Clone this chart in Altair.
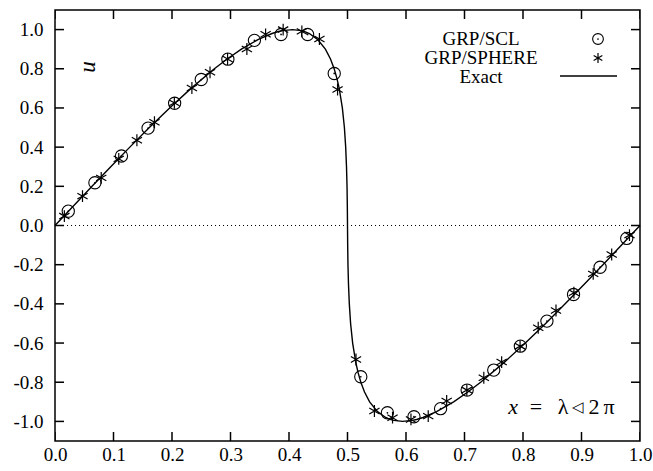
import altair as alt
import pandas as pd

# ---------------- data ----------------
x_ticks = [0.0, 0.1, 0.2, 0.3, 0.4, 0.5, 0.6, 0.7, 0.8, 0.9, 1.0]
y_ticks = [-1.0, -0.8, -0.6, -0.4, -0.2, 0.0, 0.2, 0.4, 0.6, 0.8, 1.0]

exact_x = [0.0, 0.0315, 0.0633, 0.0953, 0.1279, 0.1613, 0.1960, 0.2326, 0.2724, 0.2943,
           0.3186, 0.3477, 0.3710, 0.3819, 0.3893, 0.4060, 0.4211, 0.4270, 0.4348, 0.4487,
           0.4622, 0.4709, 0.4772, 0.4820, 0.4858, 0.4912, 0.4947, 0.4969, 0.4983, 0.4992,
           0.4997, 0.5000, 0.5003, 0.5008, 0.5017, 0.5031, 0.5053, 0.5088, 0.5142, 0.5180,
           0.5228, 0.5291, 0.5378, 0.5513, 0.5652, 0.5730, 0.5789, 0.5940, 0.6107, 0.6181,
           0.6290, 0.6523, 0.6814, 0.7057, 0.7276, 0.7674, 0.8040, 0.8387, 0.8721, 0.9047,
           0.9367, 0.9685, 1.0]
exact_u = [0.0, 0.1, 0.2, 0.3, 0.4, 0.5, 0.6, 0.7, 0.8, 0.85,
           0.9, 0.95, 0.98, 0.99, 0.995, 1.0, 0.995, 0.99, 0.98, 0.95,
           0.9, 0.85, 0.8, 0.75, 0.7, 0.6, 0.5, 0.4, 0.3, 0.2,
           0.1, 0.0, -0.1, -0.2, -0.3, -0.4, -0.5, -0.6, -0.7, -0.75,
           -0.8, -0.85, -0.9, -0.95, -0.98, -0.99, -0.995, -1.0, -0.995, -0.99,
           -0.98, -0.95, -0.9, -0.85, -0.8, -0.7, -0.6, -0.5, -0.4, -0.3,
           -0.2, -0.1, 0.0]

scl_x = [0.0227, 0.0682, 0.1136, 0.1591, 0.2045, 0.2500, 0.2955, 0.3409, 0.3864, 0.4318, 0.4773,
         0.5227, 0.5682, 0.6136, 0.6591, 0.7045, 0.7500, 0.7955, 0.8409, 0.8864, 0.9318, 0.9773]
scl_u = [0.073, 0.218, 0.355, 0.497, 0.624, 0.745, 0.849, 0.945, 0.975, 0.975, 0.776,
         -0.772, -0.956, -0.976, -0.935, -0.840, -0.738, -0.616, -0.488, -0.352, -0.213, -0.066]

sph_x = [0.016, 0.047, 0.079, 0.109, 0.140, 0.170, 0.204, 0.234, 0.265, 0.295, 0.328,
         0.360, 0.390, 0.422, 0.452, 0.483,
         0.5145, 0.546, 0.577, 0.6085, 0.638, 0.6695, 0.704, 0.733, 0.7635, 0.795,
         0.826, 0.8564, 0.887, 0.920, 0.9516, 0.982]
sph_u = [0.048, 0.150, 0.243, 0.340, 0.435, 0.527, 0.626, 0.702, 0.782, 0.850, 0.901,
         0.976, 1.000, 0.991, 0.952, 0.694,
         -0.684, -0.947, -0.981, -0.990, -0.973, -0.896, -0.840, -0.777, -0.697, -0.616,
         -0.522, -0.434, -0.343, -0.247, -0.148, -0.049]

legend_labels = ["GRP/SCL", "GRP/SPHERE", "Exact"]
xlabel_parts = ["x", "=", "λ", "◁", "2", "π"]

# ---------------- styling ----------------
W, H = 585, 431
FONT = "Liberation Serif"
FS = 19
ASTER = "M0,-1L0,1M-0.866,-0.5L0.866,0.5M-0.866,0.5L0.866,-0.5"

xs = alt.Scale(domain=[0, 1], nice=False, zero=False)
ys = alt.Scale(domain=[-1.1, 1.1], nice=False, zero=False)
lab = "datum.value < 0 ? '-' + format(-datum.value, '.1f') : format(datum.value, '.1f')"

x_axis = alt.Axis(values=x_ticks, labelExpr=lab, ticks=False, tickSize=0, domain=False,
                  grid=False, labelFont=FONT, labelFontSize=FS, labelColor="black",
                  labelPadding=4, title=None, labelFlush=False, labelOverlap=False)
y_axis = alt.Axis(values=y_ticks, labelExpr=lab, ticks=False, tickSize=0, domain=False,
                  grid=False, labelFont=FONT, labelFontSize=FS, labelColor="black",
                  labelPadding=12, title=None, labelFlush=False, labelOverlap=False)

df_exact = pd.DataFrame({"x": exact_x, "u": exact_u})
df_scl = pd.DataFrame({"x": scl_x, "u": scl_u})
df_sph = pd.DataFrame({"x": sph_x, "u": sph_u})
df_xt = pd.DataFrame({"x": x_ticks})
df_yt = pd.DataFrame({"u": y_ticks})
one = pd.DataFrame({"a": [0]})

X = lambda: alt.X("x:Q", scale=xs, axis=x_axis)
Y = lambda: alt.Y("u:Q", scale=ys, axis=y_axis)

zero_line = alt.Chart(pd.DataFrame({"u": [0.0]})).mark_rule(
    color="black", strokeWidth=1, strokeDash=[1, 3]).encode(y=Y())

exact = alt.Chart(df_exact).mark_line(color="black", strokeWidth=1.4).encode(x=X(), y=Y())

scl = alt.Chart(df_scl).mark_point(shape="circle", filled=False, size=150, color="black",
                                   strokeWidth=1.1, opacity=1).encode(x=X(), y=Y())
scl_dot = alt.Chart(df_scl).mark_point(shape="circle", filled=True, size=3, color="black",
                                       opacity=1).encode(x=X(), y=Y())
sph = alt.Chart(df_sph).mark_point(shape=ASTER, filled=False, size=140, color="black",
                                   strokeWidth=1.2, opacity=1).encode(x=X(), y=Y())

tick_style = dict(color="black", thickness=1.5, size=18, clip=True, opacity=1)
xt_bot = alt.Chart(df_xt).mark_tick(orient="vertical", **tick_style).encode(x=X(), y=alt.value(H))
xt_top = alt.Chart(df_xt).mark_tick(orient="vertical", **tick_style).encode(x=X(), y=alt.value(0))
yt_left = alt.Chart(df_yt).mark_tick(orient="horizontal", **tick_style).encode(y=Y(), x=alt.value(0))
yt_right = alt.Chart(df_yt).mark_tick(orient="horizontal", **tick_style).encode(y=Y(), x=alt.value(W))

# legend (manual)
leg_y = [29, 48, 67]
leg_text = [
    alt.Chart(one).mark_text(text=t, font=FONT, fontSize=FS, align="center", baseline="middle",
                             color="black").encode(x=alt.value(426), y=alt.value(yy))
    for t, yy in zip(legend_labels, leg_y)
]
leg_circ = alt.Chart(one).mark_point(shape="circle", filled=False, size=115, color="black",
                                     strokeWidth=1.1, opacity=1).encode(x=alt.value(543), y=alt.value(29))
leg_dot = alt.Chart(one).mark_point(shape="circle", filled=True, size=3, color="black",
                                    opacity=1).encode(x=alt.value(543), y=alt.value(29))
leg_ast = alt.Chart(one).mark_point(shape=ASTER, filled=False, size=100, color="black",
                                    strokeWidth=1.2, opacity=1).encode(x=alt.value(543), y=alt.value(48))
leg_line = alt.Chart(one).mark_rule(color="black", strokeWidth=1.4).encode(
    x=alt.value(505), x2=alt.value(562), y=alt.value(66))

# annotations
u_lab = alt.Chart(one).mark_text(text="u", font=FONT, fontSize=23, fontStyle="italic", angle=270,
                                 align="center", baseline="middle", color="black").encode(
    x=alt.value(33), y=alt.value(57))

part_x = [458, 481, 508, 523, 539, 554]
part_style = ["italic", "normal", "normal", "normal", "normal", "normal"]
part_size = [22, 22, 22, 15, 22, 22]
xlab = [
    alt.Chart(one).mark_text(text=t, font=FONT, fontSize=fs, fontStyle=st, align="center",
                             baseline="middle", color="black").encode(
        x=alt.value(px), y=alt.value(397))
    for t, px, st, fs in zip(xlabel_parts, part_x, part_style, part_size)
]

chart = alt.layer(
    zero_line, exact, scl, scl_dot, sph,
    xt_bot, xt_top, yt_left, yt_right,
    *leg_text, leg_circ, leg_dot, leg_ast, leg_line,
    u_lab, *xlab,
).properties(
    width=W, height=H,
    autosize=alt.AutoSizeParams(type="none"),
    padding={"left": 55, "top": 10, "right": 13, "bottom": 30},
    background="white",
).configure(font=FONT).configure_view(stroke="black", strokeWidth=1.5).configure_axis(
    labelFont=FONT, labelFontSize=FS, labelColor="black")

chart.save("out.html", embed_options={"renderer": "svg", "actions": False})
